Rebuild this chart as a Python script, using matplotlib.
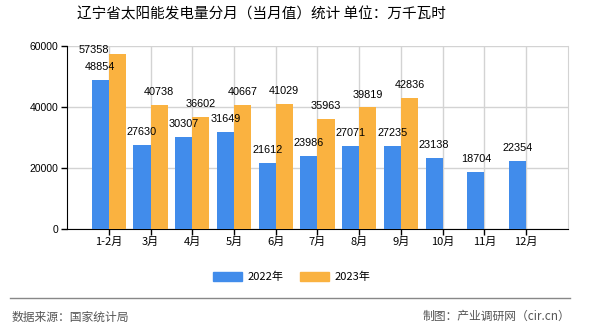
import numpy as np
import matplotlib
matplotlib.use('Agg')
import matplotlib.pyplot as plt
from matplotlib.patches import Patch
from matplotlib.lines import Line2D

plt.rcParams['font.family'] = ['Noto Sans CJK SC', 'DejaVu Sans']

months = ['1-2月', '3月', '4月', '5月', '6月', '7月', '8月', '9月', '10月', '11月', '12月']
vals_2022 = [48854, 27630, 30307, 31649, 21612, 23986, 27071, 27235, 23138, 18704, 22354]
vals_2023 = [57358, 40738, 36602, 40667, 41029, 35963, 39819, 42836]
series_names = ['2022年', '2023年']
colors = ['#418CEB', '#FAB240']


def main():
    fig = plt.figure(figsize=(5.9, 3.3), dpi=100)
    ax = fig.add_axes([0.1136, 0.306, 0.849, 0.555])

    x = np.arange(1, len(months) + 1)
    w = 0.41
    ax.bar(x - w / 2, vals_2022, width=w, color=colors[0], zorder=3)
    x23 = x[:len(vals_2023)]
    ax.bar(x23 + w / 2, vals_2023, width=w, color=colors[1], zorder=3)

    lab = dict(fontsize=7.8, family=['Liberation Sans', 'DejaVu Sans'], zorder=4)
    for xi, v in zip(x, vals_2022):
        ax.text(xi - w / 2, v + 2600, str(v), ha='center', va='bottom', **lab)
    for xi, v in zip(x23, vals_2023):
        if v > 55000:
            # top label pushed left of the bar, as in the source chart
            ax.text(xi, v + 1300, str(v), ha='right', va='center', **lab)
        else:
            ax.text(xi + w / 2, v + 2600, str(v), ha='center', va='bottom', **lab)

    ax.set_xlim(0, len(months) + 1)
    ax.set_ylim(0, 60000)
    ax.set_xticks(x)
    ax.set_xticklabels(months, fontsize=8)
    ax.set_yticks([0, 20000, 40000, 60000])
    ax.set_yticklabels(['0', '20000', '40000', '60000'], fontsize=7.5,
                       family=['Liberation Sans', 'DejaVu Sans'])
    ax.tick_params(axis='both', length=4, width=1, color='black', pad=2)
    ax.grid(True, color='#d3d3d3', linewidth=1, zorder=0)
    ax.spines['top'].set_visible(False)
    ax.spines['right'].set_color('#d3d3d3')
    ax.spines['left'].set_color('black')
    ax.spines['bottom'].set_color('black')

    fig.text(0.443, 0.955, '辽宁省太阳能发电量分月（当月值）统计 单位：万千瓦时',
             ha='center', va='center', fontsize=10.5, weight='medium')

    handles = [Patch(color=c) for c in colors]
    fig.legend(handles, series_names, loc='center', bbox_to_anchor=(0.495, 0.16),
               ncol=2, frameon=False, fontsize=8, handlelength=2.6, handleheight=0.9,
               columnspacing=1.5, handletextpad=0.5)

    fig.add_artist(Line2D([0.017, 0.966], [0.097, 0.097], color='#888888', linewidth=1))
    fig.text(0.02, 0.04, '数据来源：国家统计局', ha='left', va='center',
             fontsize=8.5, color='#555555')
    fig.text(0.966, 0.04, '制图：产业调研网（cir.cn）', ha='right', va='center',
             fontsize=8.5, color='#555555')

    fig.savefig('out.png', dpi=100)


if __name__ == '__main__':
    main()
